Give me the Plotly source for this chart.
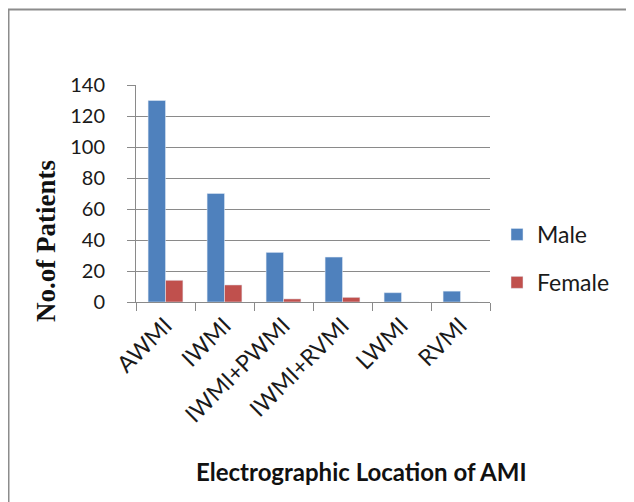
import plotly.graph_objects as go

categories = ["AWMI", "IWMI", "IWMI+PWMI", "IWMI+RVMI", "LWMI", "RVMI"]
male = [130, 70, 32, 29, 6, 7]
female = [14, 11, 2, 3, 0, 0]
y_ticks = [0, 20, 40, 60, 80, 100, 120, 140]

OFF = 8  # page body margin
W, H = 634 - OFF, 502 - OFF
# plot area in screen pixels (reference image coordinates)
X0, X1, Y0, Y1 = 136, 490, 85, 302
L, R, T, B = X0 - OFF, W - (X1 - OFF), Y0 - OFF, H - (Y1 - OFF)
pw = W - L - R
ph = H - T - B

def px_x(x):
    return (x - X0) / pw

def px_y(y):
    return (Y1 - y) / ph

fig = go.Figure()
fig.add_trace(go.Bar(name="Male", x=categories, y=male, marker_color="#4F81BD",
                     legendgroup="m"))
fig.add_trace(go.Bar(name="Female", x=categories, y=female, marker_color="#C0504D",
                     legendgroup="f"))

font_main = "Lato, 'Open Sans', sans-serif"
grid = "#8a8a8a"

fig.update_layout(
    width=W, height=H,
    margin=dict(l=L, r=R, t=T, b=B, autoexpand=False),
    paper_bgcolor="white", plot_bgcolor="white",
    barmode="group", bargap=0.41, bargroupgap=0,
    font=dict(family=font_main, size=20, color="#1a1a1a"),
    showlegend=True,
    legend=dict(x=px_x(497), xanchor="left", y=px_y(213), yanchor="top",
                font=dict(size=23, family=font_main, color="#1a1a1a"),
                tracegroupgap=15, traceorder="grouped",
                bgcolor="rgba(0,0,0,0)"),
    xaxis=dict(type="category", showline=True, linecolor=grid, linewidth=1,
               ticks="outside", tickson="boundaries", ticklen=8, tickcolor=grid,
               tickangle=-45, tickfont=dict(size=23, family=font_main, color="#1a1a1a"),
               showgrid=False),
    yaxis=dict(range=[0, 140], tickvals=y_ticks, showline=True, linecolor=grid,
               linewidth=1, ticks="outside", ticklen=8, tickcolor=grid,
               showgrid=True, gridcolor=grid, gridwidth=1, zeroline=False,
               ticklabelstandoff=18,
               tickfont=dict(size=20, family=font_main, color="#1a1a1a")),
    shapes=[dict(type="rect", xref="paper", yref="paper",
                 x0=px_x(8.5), x1=px_x(680), y0=px_y(540), y1=px_y(9.5),
                 line=dict(color="#8c8c8c", width=2), fillcolor="rgba(0,0,0,0)",
                 layer="below")],
    annotations=[
        dict(text="<b>No.of Patients</b>", xref="paper", yref="paper",
             x=px_x(46), y=px_y(241), textangle=-90, showarrow=False,
             xanchor="center", yanchor="middle",
             font=dict(family="'Liberation Serif', 'Times New Roman', serif",
                       size=27, color="#111111")),
        dict(text="<b>Electrographic Location of AMI</b>", xref="paper", yref="paper",
             x=px_x(361), y=px_y(471), showarrow=False,
             xanchor="center", yanchor="middle",
             font=dict(family=font_main, size=24, color="#111111")),
    ],
)

fig.write_html("out.html")
